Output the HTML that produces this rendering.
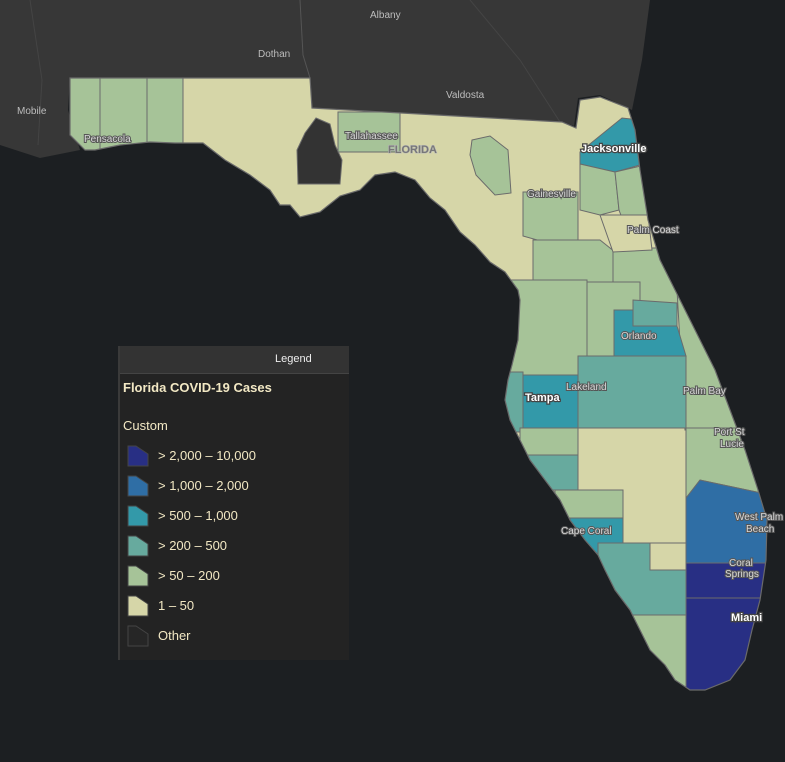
<!DOCTYPE html>
<html><head><meta charset="utf-8"><style>
html,body{margin:0;padding:0;background:#1c1f22;}
#wrap{position:relative;width:785px;height:762px;overflow:hidden;font-family:"Liberation Sans",sans-serif;}
svg text{font-family:"Liberation Sans",sans-serif;}
.city{fill:#d8d8d8;font-size:10px;paint-order:stroke;stroke:#555;stroke-width:2px;}
.cityb{fill:#fff;font-size:11px;font-weight:bold;paint-order:stroke;stroke:#444;stroke-width:2.5px;}
.geo{fill:#bdbdbd;font-size:10px;}
</style></head><body>
<div id="wrap">
<svg id="map" width="785" height="762" viewBox="0 0 785 762">
<defs><clipPath id="fl"><polygon id="flpath" points="70,78 310,78 312,108 562,122 576,128 580,100 600,97 628,108 635,130 640,170 648,220 660,260 680,300 700,340 715,370 730,410 745,450 758,490 767,520 766,560 760,600 752,630 745,660 730,680 705,690 690,690 675,680 665,665 650,650 640,630 630,610 615,590 605,570 598,555 585,540 570,520 560,500 545,480 530,460 520,440 510,420 505,400 508,380 512,365 518,340 520,300 518,290 505,272 490,262 475,245 460,232 445,210 430,198 415,180 395,172 375,175 360,190 340,196 320,212 300,217 290,205 280,205 270,190 250,175 225,160 203,143 175,143 150,142 120,145 95,150 85,150 70,135"/></clipPath></defs>
<rect width="785" height="762" fill="#1c1f22"/>
<polygon points="0,0 650,0 642,60 632,110 600,95 578,98 574,126 562,122 312,108 310,78 70,78 68,110 80,150 40,158 0,145" fill="#373737"/>
<polyline points="300,0 303,55 310,78" stroke="#555" fill="none"/>
<polyline points="470,0 520,60 560,122" stroke="#444" fill="none"/>
<polyline points="30,0 42,80 38,145" stroke="#444" fill="none"/>
<text class="geo" x="370" y="18">Albany</text>
<text class="geo" x="258" y="57">Dothan</text>
<text class="geo" x="446" y="98">Valdosta</text>
<text class="geo" x="17" y="114">Mobile</text>
<g clip-path="url(#fl)" id="counties"><rect x="0" y="0" width="785" height="762" fill="#d6d6a8"/></g>
<use href="#flpath" fill="none" stroke="#6a6a6a" stroke-width="1.2"/>
<g id="labels">
<text class="city" x="84" y="142">Pensacola</text>
<text class="city" x="345" y="139">Tallahassee</text>
<text x="388" y="153" style="fill:#777;font-size:11px;font-weight:bold;paint-order:stroke;stroke:#bbb;stroke-width:1px">FLORIDA</text>
<text class="cityb" x="581" y="152">Jacksonville</text>
<text class="city" x="527" y="197">Gainesville</text>
<text class="city" x="627" y="233">Palm Coast</text>
<text class="city" x="621" y="339">Orlando</text>
<text class="city" x="566" y="390">Lakeland</text>
<text class="cityb" x="525" y="401">Tampa</text>
<text class="city" x="683" y="394">Palm Bay</text>
<text class="city" x="714" y="435">Port St</text>
<text class="city" x="720" y="447">Lucie</text>
<text class="city" x="735" y="520">West Palm</text>
<text class="city" x="746" y="532">Beach</text>
<text class="city" x="729" y="566">Coral</text>
<text class="city" x="725" y="577">Springs</text>
<text class="city" x="561" y="534">Cape Coral</text>
<text class="cityb" x="731" y="621">Miami</text>
</g>
</svg>
<div style="position:absolute;left:118px;top:346px;width:229px;height:314px;background:#232323;border-left:2px solid #3a3a3a;">
<div style="height:27px;background:#333;border-bottom:1px solid #444;color:#eee;font-size:11px;line-height:27px;padding-left:155px;">Legend</div>
<div style="position:absolute;left:3px;top:34px;color:#f2e8c4;font-size:13px;font-weight:bold;">Florida COVID-19 Cases</div>
<div style="position:absolute;left:3px;top:72px;color:#f2e8c4;font-size:13px;">Custom</div>
<div id="items"></div>
</div>
</div>
<script>
const counties = ["Escambia","Santa Rosa","Okaloosa","Gadsden","Leon","Suwannee","Duval","Clay","St Johns","Alachua","Marion","Volusia","Flagler","Lake","Citrus-Pasco","Brevard","Seminole","Orange","Osceola-Polk","Hillsborough","Pinellas","Manatee","Sarasota","Charlotte","Lee","Treasure Coast","Palm Beach","Broward","Miami-Dade","Collier","Monroe","Hendry"];
const cases = [120,90,60,null,80,60,700,150,160,180,90,170,40,120,130,150,300,900,400,800,450,150,300,80,550,180,1300,2500,4000,250,100,30];
const shapes = [
"60,70 105,70 100,160 60,160","100,70 147,70 147,145 100,150","147,70 183,70 183,145 147,145",
"316,118 330,124 335,145 342,160 340,184 298,184 297,150 305,133","338,112 400,112 400,152 338,152",
"472,140 490,136 508,150 511,193 495,195 476,175 470,155",
"580,152 622,118 640,120 640,165 615,172 580,164","580,164 615,172 619,210 600,215 580,210",
"615,172 645,165 650,222 625,226 619,210","523,192 578,192 578,242 555,245 523,236",
"533,240 600,240 615,252 615,293 533,293","613,248 680,248 685,300 662,310 613,300",
"600,215 648,215 652,250 613,252","587,282 640,282 640,356 587,356","505,280 587,280 587,375 505,375",
"677,290 780,290 780,430 685,430","633,300 677,303 677,326 633,326",
"614,310 633,310 633,326 677,326 686,356 614,356","578,356 686,356 686,428 578,428",
"523,375 578,375 578,428 523,428","495,372 523,372 523,432 495,432",
"520,428 578,428 578,455 520,455","520,455 578,455 578,490 520,490","555,490 623,490 623,518 555,518",
"570,518 623,518 623,563 570,563","686,428 785,428 785,498 700,480 686,498",
"686,498 700,480 785,498 785,563 686,563","686,563 785,563 785,598 686,598","686,598 785,598 785,700 686,700",
"598,543 650,543 650,570 686,570 686,615 598,615","630,615 686,615 686,700 630,700","650,543 686,543 686,570 650,570"];
const breaks = [50,200,500,1000,2000];
const colors = ["#d6d6a8","#a6c398","#67aa9e","#3399a9","#2f6ea5","#282f84"];
const otherColor = "#333333";
const legendLabels = ["> 2,000 – 10,000","> 1,000 – 2,000","> 500 – 1,000","> 200 – 500","> 50 – 200","1 – 50","Other"];
function colorFor(v){ if(v===null) return otherColor; let i=0; while(i<breaks.length && v>breaks[i]) i++; return colors[i]; }
const ns="http://www.w3.org/2000/svg";
const g=document.getElementById("counties");
counties.forEach((c,i)=>{
  const p=document.createElementNS(ns,"polygon");
  p.setAttribute("points",shapes[i]);
  p.setAttribute("fill",colorFor(cases[i]));
  p.setAttribute("stroke","#6b6b6b");
  p.setAttribute("stroke-width","1");
  
  
  g.appendChild(p);
});
const items=document.getElementById("items");
const swCols=[colors[5],colors[4],colors[3],colors[2],colors[1],colors[0],"#262626"];
legendLabels.forEach((l,i)=>{
  const d=document.createElement("div");
  d.style.cssText="position:absolute;left:7px;top:"+(99+i*30)+"px;height:22px;width:200px;";
  
  
  d.innerHTML='<svg width="22" height="22" style="position:absolute;left:0;top:0"><polygon points="1,1 9,1 21,9 21,21 1,21" fill="'+swCols[i]+'" stroke="#444" stroke-width="1"/></svg><span style="position:absolute;left:31px;top:3px;color:#f2e8c4;font-size:13px;white-space:nowrap">'+l+'</span>';
  items.appendChild(d);
});
</script>
</body></html>
